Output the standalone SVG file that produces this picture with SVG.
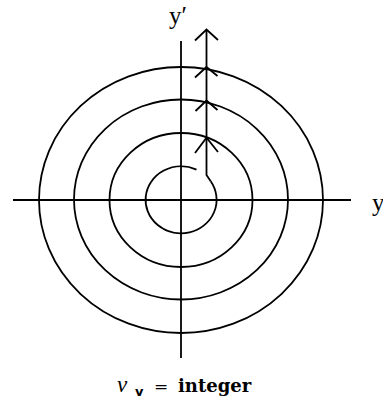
<svg xmlns="http://www.w3.org/2000/svg" width="383" height="401" viewBox="0 0 383 401">
<style>
.ln{fill:none;stroke:#000;stroke-width:1.8;stroke-linecap:butt;stroke-linejoin:miter}
.lbl{font-family:"Liberation Serif","DejaVu Serif",serif;fill:#000}
</style>
<rect width="383" height="401" fill="#fff"/>
<g id="axes">
<line class="ln" x1="13" y1="200" x2="351" y2="200"/>
<line class="ln" x1="181" y1="41" x2="181" y2="358"/>
</g>
<g id="orbits">
<path class="ln" d="M210.7,181.3 A35.5,33.5 0 1 1 196.5,169.6"/>
<ellipse class="ln" cx="181" cy="200" rx="71.5" ry="67"/>
<ellipse class="ln" cx="181" cy="199.5" rx="107" ry="100"/>
<ellipse class="ln" cx="181" cy="200" rx="142" ry="133"/>
</g>
<g id="connectors">
<polyline class="ln" points="210.7,181.3 206.5,175 206.5,30"/>
<polyline class="ln" points="195,40.5 206.5,29.5 218,40"/>
<polyline class="ln" points="195,153 206.5,137.7 218,152"/>
<polyline class="ln" points="195.5,111 206.5,100.5 217.5,110"/>
<polyline class="ln" points="195,77.5 206.5,67 217.5,76"/>
</g>
<g id="labels">
<text class="lbl" x="169" y="24" font-size="25">y′</text>
<text class="lbl" x="372" y="211" font-size="25">y</text>
<text class="lbl" x="117" y="392" font-size="23" font-style="italic">ν</text>
<text x="135" y="396" font-family="DejaVu Sans,sans-serif" font-weight="bold" font-size="13">v</text>
<text x="154" y="392" font-family="DejaVu Serif,serif" font-size="17">=</text>
<text x="178" y="392" font-family="DejaVu Serif,serif" font-weight="bold" font-size="18">integer</text>
</g>
</svg>
